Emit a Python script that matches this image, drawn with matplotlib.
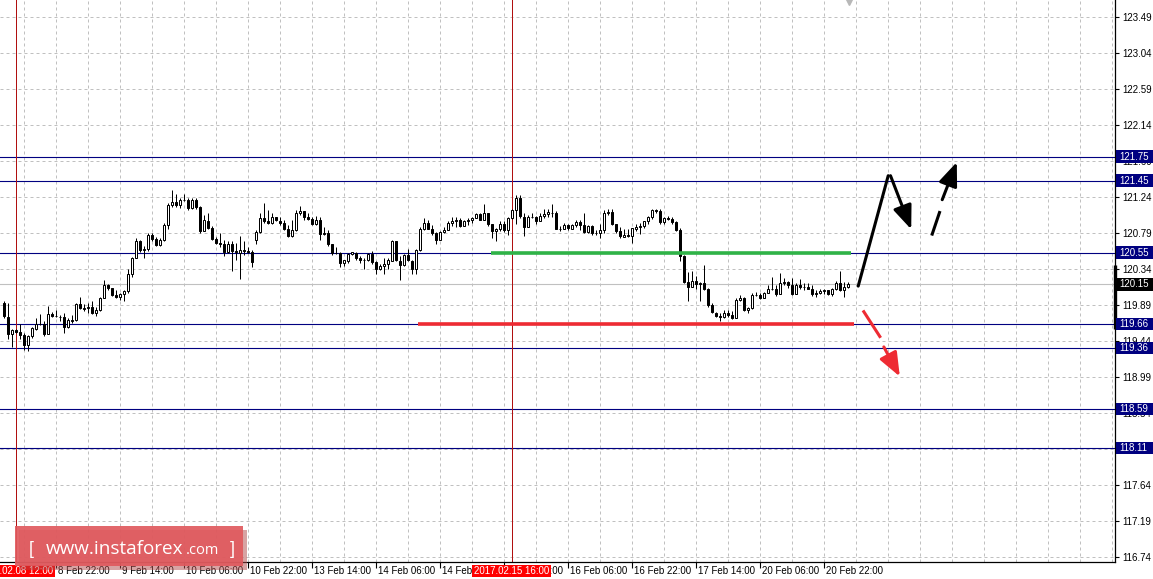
import numpy as np
import matplotlib
matplotlib.use("Agg")
import matplotlib.pyplot as plt
from matplotlib.patches import Rectangle
from matplotlib.transforms import blended_transform_factory

plt.rcParams['font.family'] = ['Liberation Sans', 'DejaVu Sans']
plt.rcParams['font.size'] = 7

# H1 bars, index 0 = 2017.02.08 12:00
first_bar = -3
closes = [
    119.75, 119.53, 119.58, 119.56, 119.52, 119.39, 119.51, 119.60, 119.66, 119.66,
    119.53, 119.78, 119.76, 119.75, 119.74, 119.62, 119.70, 119.71, 119.91, 119.85,
    119.86, 119.87, 119.80, 119.83, 119.98, 120.14, 120.11, 120.02, 119.99, 120.03,
    120.07, 120.28, 120.48, 120.69, 120.58, 120.60, 120.77, 120.72, 120.64, 120.71,
    120.89, 121.14, 121.18, 121.14, 121.21, 121.21, 121.11, 121.21, 121.12, 120.82,
    120.95, 120.86, 120.72, 120.67, 120.66, 120.56, 120.66, 120.57, 120.55, 120.58,
    120.57, 120.56, 120.43, 120.81, 120.98, 120.94, 120.92, 120.99, 120.95, 120.92,
    120.84, 120.76, 120.83, 121.05, 121.07, 120.99, 120.97, 120.90, 120.96, 120.78,
    120.79, 120.65, 120.54, 120.54, 120.42, 120.45, 120.53, 120.55, 120.48, 120.46,
    120.46, 120.53, 120.43, 120.34, 120.38, 120.40, 120.45, 120.69, 120.45, 120.39,
    120.52, 120.45, 120.34, 120.58, 120.85, 120.92, 120.85, 120.79, 120.71, 120.81,
    120.83, 120.92, 120.94, 120.96, 120.88, 120.94, 120.96, 120.98, 121.03, 120.96,
    121.05, 120.90, 120.82, 120.84, 120.91, 120.83, 120.98, 121.08, 121.23, 121.00,
    120.87, 121.00, 120.99, 120.94, 121.01, 121.03, 121.05, 121.05, 120.85, 120.85,
    120.89, 120.85, 120.89, 120.93, 120.89, 120.81, 120.88, 120.79, 120.79, 120.83,
    121.05, 121.06, 120.91, 120.82, 120.75, 120.77, 120.76, 120.85, 120.87, 120.88,
    120.94, 120.99, 121.08, 121.07, 120.93, 120.98, 120.97, 120.93, 120.83, 120.51,
    120.18, 120.12, 120.19, 120.16, 120.17, 120.10, 119.89, 119.80, 119.76, 119.74,
    119.79, 119.77, 119.73, 119.96, 119.98, 119.83, 119.86, 120.02, 120.02, 119.98,
    120.04, 120.10, 120.09, 120.03, 120.17, 120.18, 120.14, 120.03, 120.14, 120.12,
    120.12, 120.10, 120.03, 120.04, 120.07, 120.08, 120.03, 120.09, 120.17, 120.08,
    120.12, 120.15,
]
highs = [
    119.94, 119.92, 119.60, 119.59, 119.66, 119.54, 119.52, 119.62, 119.73, 119.78,
    119.69, 119.88, 119.81, 119.83, 119.77, 119.80, 119.73, 119.77, 119.92, 119.99,
    119.91, 119.92, 119.94, 119.87, 119.99, 120.21, 120.16, 120.11, 120.08, 120.05,
    120.08, 120.35, 120.50, 120.73, 120.71, 120.63, 120.79, 120.80, 120.75, 120.73,
    120.92, 121.17, 121.33, 121.28, 121.23, 121.28, 121.23, 121.23, 121.23, 121.13,
    121.02, 121.04, 120.88, 120.74, 120.79, 120.71, 120.70, 120.69, 120.67, 120.76,
    120.69, 120.62, 120.58, 120.83, 121.04, 121.17, 121.08, 121.04, 121.00, 120.99,
    120.96, 120.89, 120.96, 121.08, 121.13, 121.07, 121.04, 121.00, 121.01, 120.99,
    120.87, 120.83, 120.66, 120.62, 120.56, 120.46, 120.54, 120.56, 120.56, 120.51,
    120.48, 120.55, 120.57, 120.44, 120.41, 120.48, 120.48, 120.71, 120.70, 120.51,
    120.53, 120.60, 120.46, 120.60, 120.87, 120.98, 120.96, 120.89, 120.81, 120.82,
    120.87, 120.94, 120.99, 121.00, 120.98, 120.96, 120.98, 120.99, 121.05, 121.05,
    121.16, 121.04, 120.91, 120.86, 120.95, 120.94, 120.99, 121.09, 121.27, 121.27,
    121.04, 121.02, 121.04, 121.01, 121.04, 121.10, 121.10, 121.16, 121.07, 120.88,
    120.92, 120.91, 120.91, 120.96, 120.96, 121.05, 120.89, 120.89, 120.83, 120.91,
    121.08, 121.09, 121.09, 120.91, 120.87, 120.84, 120.85, 120.86, 120.90, 120.92,
    120.94, 121.01, 121.09, 121.09, 121.09, 121.00, 121.01, 121.00, 120.94, 120.86,
    120.52, 120.31, 120.32, 120.26, 120.18, 120.39, 120.11, 119.92, 119.81, 119.79,
    119.83, 119.83, 119.82, 119.98, 120.02, 120.00, 119.87, 120.04, 120.06, 120.05,
    120.06, 120.14, 120.25, 120.14, 120.30, 120.23, 120.20, 120.23, 120.17, 120.22,
    120.17, 120.17, 120.14, 120.08, 120.09, 120.10, 120.08, 120.11, 120.19, 120.32,
    120.18, 120.18,
]
lows = [
    119.73, 119.47, 119.37, 119.55, 119.47, 119.33, 119.32, 119.48, 119.58, 119.64,
    119.51, 119.53, 119.74, 119.74, 119.69, 119.54, 119.61, 119.67, 119.70, 119.84,
    119.82, 119.79, 119.78, 119.76, 119.82, 119.98, 120.08, 120.01, 119.98, 119.96,
    119.94, 120.05, 120.25, 120.48, 120.56, 120.48, 120.57, 120.69, 120.63, 120.63,
    120.69, 120.84, 121.12, 121.12, 121.11, 121.20, 121.08, 121.10, 121.10, 120.80,
    120.82, 120.85, 120.71, 120.66, 120.62, 120.51, 120.55, 120.32, 120.46, 120.22,
    120.52, 120.55, 120.37, 120.66, 120.79, 120.92, 120.91, 120.91, 120.94, 120.89,
    120.83, 120.75, 120.74, 120.82, 121.02, 120.96, 120.96, 120.89, 120.89, 120.71,
    120.77, 120.63, 120.52, 120.53, 120.37, 120.38, 120.42, 120.52, 120.46, 120.42,
    120.34, 120.45, 120.41, 120.28, 120.33, 120.28, 120.34, 120.44, 120.44, 120.21,
    120.38, 120.44, 120.28, 120.28, 120.57, 120.83, 120.84, 120.77, 120.66, 120.71,
    120.80, 120.83, 120.88, 120.87, 120.87, 120.88, 120.89, 120.92, 120.98, 120.96,
    120.96, 120.88, 120.73, 120.70, 120.82, 120.81, 120.77, 120.97, 120.91, 120.98,
    120.76, 120.87, 120.98, 120.91, 120.94, 120.98, 120.99, 121.00, 120.84, 120.82,
    120.84, 120.83, 120.84, 120.87, 120.83, 120.80, 120.80, 120.77, 120.77, 120.73,
    120.80, 121.02, 120.89, 120.80, 120.73, 120.76, 120.74, 120.67, 120.82, 120.78,
    120.86, 120.90, 120.97, 121.04, 120.90, 120.91, 120.96, 120.91, 120.82, 120.44,
    120.17, 119.94, 120.12, 120.10, 119.94, 120.08, 119.87, 119.79, 119.75, 119.70,
    119.73, 119.75, 119.72, 119.75, 119.94, 119.82, 119.79, 119.85, 120.01, 119.97,
    119.98, 120.04, 120.08, 120.01, 120.09, 120.14, 120.11, 120.02, 120.03, 120.10,
    120.08, 120.10, 120.01, 119.99, 120.03, 120.03, 120.02, 120.01, 120.08, 120.07,
    120.00, 120.11,
]
first_open = 119.92
gap_opens = {60: 120.71}  # Monday open after weekend gap

levels = [121.75, 121.45, 120.55, 119.66, 119.36, 118.59, 118.11]
price_ticks = [116.74, 117.19, 117.64, 118.09, 118.54, 118.99, 119.44, 119.89,
               120.34, 120.79, 121.24, 121.69, 122.14, 122.59, 123.04, 123.49]
last_price = 120.15

time_tick_bars = [10, 26, 42, 58, 74, 90, 106, 122, 138, 154, 170, 186, 202]
time_tick_labels = ['8 Feb 22:00', '9 Feb 14:00', '10 Feb 06:00', '10 Feb 22:00',
                    '13 Feb 14:00', '14 Feb 06:00', '14 Feb 22:00', '15 Feb 14:00',
                    '16 Feb 06:00', '16 Feb 22:00', '17 Feb 14:00', '20 Feb 06:00',
                    '20 Feb 22:00']
marker_bars = [0, 124]
marker_labels = ['2017.02.08 12:00', '2017.02.15 16:00']

# drawn support / resistance and forecast arrows (bar, price)
green_seg = ([118.75, 208.9], 120.55)
red_seg = ([100.6, 209.6], 119.66)
black_up = [(210.68, 120.13), (218.18, 121.51)]
black_down = [(218.75, 121.51), (223.93, 120.84)]
dash_up = [(229.18, 120.78), (231.0, 121.05), (231.68, 121.21), (235.33, 121.68)]
red_down = [(212.08, 119.81), (216.08, 119.50), (217.08, 119.37), (221.08, 119.0)]

W, H = 1153, 579
fig = plt.figure(figsize=(W / 100, H / 100), dpi=100)
ax = fig.add_axes([0, (H - 562) / H, 1115 / W, 562 / H])
ymax = 123.49 + 17.3 / 80
ymin = 123.49 - (562 - 17.3) / 80
# half-pixel shift so each bar sits on a pixel centre
xmin, xmax = -3.875, 274.875
ax.set_xlim(xmin, xmax)
ax.set_ylim(ymin, ymax)

for s in ['top', 'left']:
    ax.spines[s].set_visible(False)
for s in ['right', 'bottom']:
    ax.spines[s].set_linewidth(0.9)

# grid
grid_kw = dict(color='#c0c0c0', lw=0.72, linestyle=(0, (3, 3)), zorder=0)
for gx in range(2, 275, 8):
    ax.axvline(gx, **grid_kw)
for gy in price_ticks:
    ax.axhline(gy, **grid_kw)

ax.axhline(last_price, color='#c0c0c0', lw=0.8, zorder=1)
for lv in levels:
    ax.axhline(lv, color='#000080', lw=0.8, zorder=1)
for mb in marker_bars:
    ax.axvline(mb, color='#b01010', lw=0.72, zorder=1)

# candles
bars = np.arange(first_bar, first_bar + len(closes))
c = np.array(closes)
o = np.r_[first_open, c[:-1]]
for b, v in gap_opens.items():
    o[bars == b] = v
hi = np.maximum(np.array(highs), np.maximum(o, c))
lo = np.minimum(np.array(lows), np.minimum(o, c))
up = c >= o
ax.vlines(bars, lo, hi, color='black', lw=0.72, zorder=3)
ax.bar(bars[up], (c - o)[up], bottom=o[up], width=0.5, facecolor='white',
       edgecolor='black', lw=0.72, zorder=4)
ax.bar(bars[~up], (c - o)[~up], bottom=o[~up], width=0.5, facecolor='black',
       edgecolor='black', lw=0.72, zorder=4)

# support / resistance
ax.plot(green_seg[0], [green_seg[1]] * 2, color='#2fb347', lw=2.6,
        solid_capstyle='butt', zorder=5)
ax.plot(red_seg[0], [red_seg[1]] * 2, color='#ee2b33', lw=2.6,
        solid_capstyle='butt', zorder=5)

def arrow_head(p0, p1, color):
    ax.annotate('', xy=p1, xytext=p0, zorder=6,
                arrowprops=dict(arrowstyle='-|>,head_length=0.9,head_width=0.36',
                                mutation_scale=16, color=color, lw=2.2,
                                shrinkA=0, shrinkB=0))

ax.plot(*zip(*black_up), color='black', lw=2.2, solid_capstyle='round', zorder=6)
arrow_head(black_down[0], black_down[1], 'black')
ax.plot(*zip(*dash_up[:2]), color='black', lw=2.2, zorder=6)
arrow_head(dash_up[2], dash_up[3], 'black')
ax.plot(*zip(*red_down[:2]), color='#ee2b33', lw=2.2, zorder=6)
arrow_head(red_down[2], red_down[3], '#ee2b33')

# chart shift marker
ax.plot(208.25, ymax - 1.5 / 80, marker='v', ms=4, color='#b8b8b8',
        clip_on=False, zorder=7)
# current price bar on the axis
ax.plot([xmax, xmax], [120.39, 119.60], color='black', lw=2.4,
        solid_capstyle='butt', clip_on=False, zorder=7)

# price axis
ax.yaxis.tick_right()
ax.set_yticks(price_ticks)
ax.set_yticklabels([f'{p:.2f}' for p in price_ticks])
ax.tick_params(axis='y', length=3, width=0.8, pad=2, labelsize=7)
ax.set_xticks(time_tick_bars)
ax.set_xticklabels([])
ax.tick_params(axis='x', length=4, width=0.8, direction='out')

ty = blended_transform_factory(fig.transFigure, ax.transData)
box_h = 12 / 80
for lv in levels + [last_price]:
    col = 'black' if lv == last_price else '#000080'
    ax.add_patch(Rectangle((1116 / W, lv - box_h / 2), 37 / W, box_h,
                           transform=ty, facecolor=col, edgecolor='none',
                           clip_on=False, zorder=8))
    ax.text(1119 / W, lv, f'{lv:.2f}', transform=ty, color='white',
            va='center', ha='left', fontsize=7, zorder=9, clip_on=False)

# time axis labels
tx = blended_transform_factory(ax.transData, fig.transFigure)
lab_y = 1 - 571 / H
for b, lab in zip(time_tick_bars, time_tick_labels):
    ax.text(b + 0.5, lab_y, lab, transform=tx, ha='left', va='center',
            fontsize=7, clip_on=False)
for b, lab in zip(marker_bars, marker_labels):
    ax.text(b, lab_y, lab, transform=tx, ha='center', va='center', color='white',
            fontsize=7, clip_on=False, zorder=9,
            bbox=dict(boxstyle='square,pad=0.15', facecolor='#ff0000',
                      edgecolor='none'))

# watermark
fig.patches.append(Rectangle((19 / W, 1 - 570 / H), 228 / W, 40 / H,
                             transform=fig.transFigure, facecolor='#b04848',
                             alpha=0.5, edgecolor='none', zorder=10))
fig.patches.append(Rectangle((15 / W, 1 - 566 / H), 228 / W, 40 / H,
                             transform=fig.transFigure, facecolor='#e05a5e',
                             alpha=0.92, edgecolor='none', zorder=11))
base_y = 1 - 554 / H
fig.text(29 / W, base_y, '[', color='white', fontsize=13, va='baseline',
         ha='left', zorder=12)
fig.text(46 / W, base_y, 'www.instaforex', color='white', fontsize=13.6,
         va='baseline', ha='left', zorder=12, family='Open Sans')
fig.text(186 / W, base_y, '.com', color='white', fontsize=10.5,
         va='baseline', ha='left', zorder=12, family='Open Sans')
fig.text(230 / W, base_y, ']', color='white', fontsize=13, va='baseline',
         ha='left', zorder=12)

fig.savefig('out.png', dpi=100)
